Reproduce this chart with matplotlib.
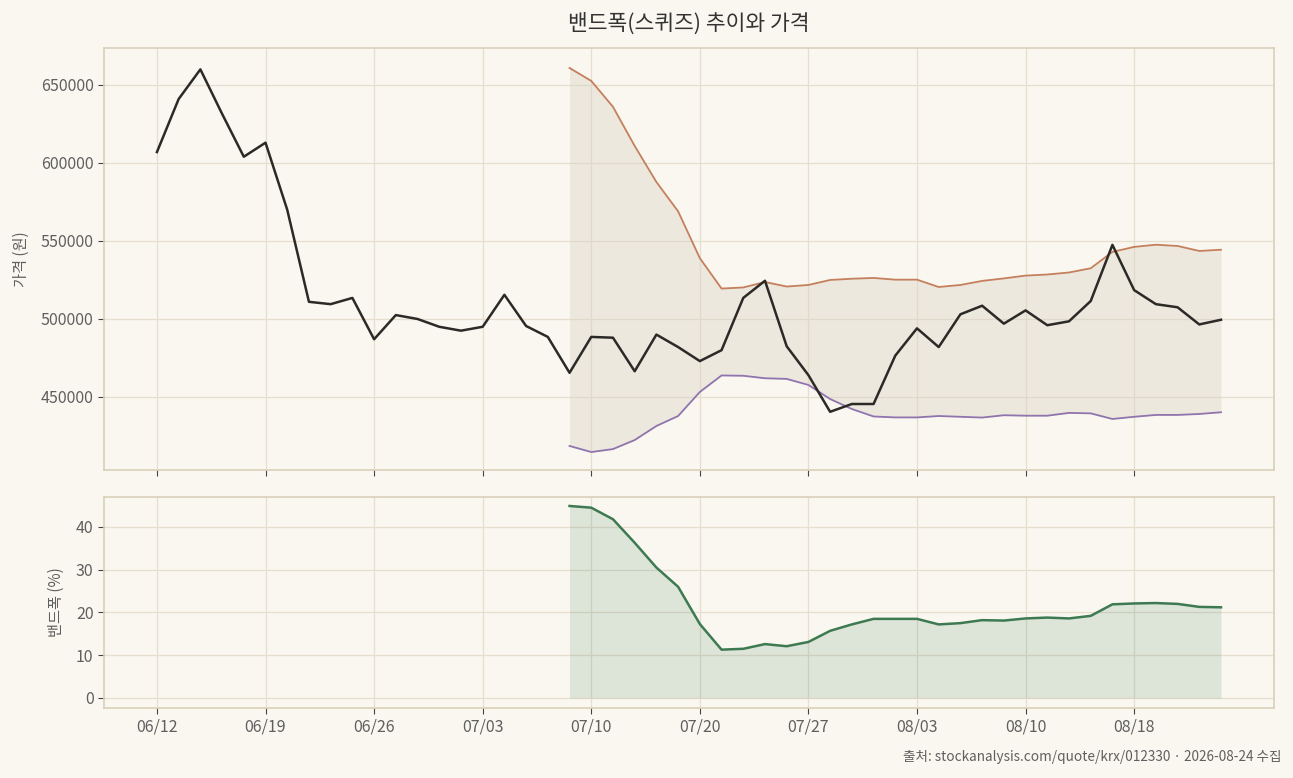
import numpy as np
import matplotlib
matplotlib.use('Agg')
import matplotlib.pyplot as plt

plt.rcParams['font.family'] = ['Noto Sans CJK KR', 'DejaVu Sans']
plt.rcParams['axes.unicode_minus'] = False

# 거래일 (50일)
dates = ['06/12', '06/15', '06/16', '06/17', '06/18', '06/19', '06/22', '06/23', '06/24', '06/25',
         '06/26', '06/29', '06/30', '07/01', '07/02', '07/03', '07/06', '07/07', '07/08', '07/09',
         '07/10', '07/13', '07/14', '07/15', '07/16', '07/20', '07/21', '07/22', '07/23', '07/24',
         '07/27', '07/28', '07/29', '07/30', '07/31', '08/03', '08/04', '08/05', '08/06', '08/07',
         '08/10', '08/11', '08/12', '08/13', '08/14', '08/18', '08/19', '08/20', '08/21', '08/24']

# 종가
close = [607000, 641000, 660000, 631500, 604000, 613000, 570000, 511000, 509500, 513500,
         487000, 502500, 500000, 495000, 492500, 495000, 515500, 495500, 488500, 465500,
         488500, 488000, 466500, 490000, 482000, 473000, 480000, 513500, 524500, 482500,
         464000, 440500, 445500, 445500, 476500, 494000, 482000, 503000, 508500, 497000,
         505500, 496000, 498500, 511500, 547500, 518500, 509500, 507500, 496500, 499500]

# 볼린저 밴드 (20일) - 인덱스 19부터
band_start = 19
upper = [660900, 652600, 636000, 610900, 587800, 569000, 539000, 519500, 520200, 523700,
         520800, 521800, 525000, 525800, 526300, 525200, 525200, 520500, 521800, 524400,
         526000, 527800, 528500, 529800, 532500, 543000, 546200, 547600, 546800, 543600,
         544400]
lower = [418600, 414700, 416600, 422400, 431400, 437800, 453200, 463800, 463600, 462000,
         461600, 457700, 448700, 442300, 437500, 436900, 436900, 437800, 437300, 436800,
         438300, 438000, 438000, 439800, 439500, 435900, 437300, 438500, 438500, 439100,
         440200]
bandwidth = [44.9, 44.5, 41.8, 36.3, 30.5, 26.0, 17.3, 11.3, 11.5, 12.6,
             12.1, 13.1, 15.7, 17.2, 18.5, 18.5, 18.5, 17.2, 17.5, 18.2,
             18.1, 18.6, 18.8, 18.6, 19.2, 21.9, 22.1, 22.2, 22.0, 21.3,
             21.2]

bg = '#faf7f0'
spine_c = '#d9cfb9'
grid_c = '#e6dece'
text_c = '#5f5f5f'

fig = plt.figure(figsize=(12.93, 7.78), dpi=100, facecolor=bg)
ax1 = fig.add_axes([0.0804, 0.3959, 0.9049, 0.5424])
ax2 = fig.add_axes([0.0804, 0.0900, 0.9049, 0.2712], sharex=ax1)

x = np.arange(len(close))
xb = np.arange(band_start, band_start + len(upper))

# 가격 + 밴드
ax1.fill_between(xb, lower, upper, color='#d9d3c3', alpha=0.4, linewidth=0)
ax1.plot(xb, upper, color='#c47f5c', linewidth=1.3)
ax1.plot(xb, lower, color='#8f74ad', linewidth=1.3)
ax1.plot(x, close, color='#2b2a27', linewidth=1.8)
ax1.set_ylim(403200, 673700)
ax1.set_yticks([450000, 500000, 550000, 600000, 650000])
ax1.set_ylabel('가격 (원)', fontsize=11, color=text_c, labelpad=8)

# 밴드폭
ax2.fill_between(xb, 0, bandwidth, color='#3d7a52', alpha=0.15, linewidth=0)
ax2.plot(xb, bandwidth, color='#3d7a52', linewidth=1.8)
ax2.set_ylim(-2.34, 47.0)
ax2.set_yticks([0, 10, 20, 30, 40])
ax2.set_ylabel('밴드폭 (%)', fontsize=11, color=text_c, labelpad=8)

ticks = list(range(0, len(dates), 5))
ax2.set_xticks(ticks)
ax2.set_xticklabels([dates[i] for i in ticks])
ax1.set_xlim(-2.44, 51.44)
plt.setp(ax1.get_xticklabels(), visible=False)

for ax in (ax1, ax2):
    ax.set_facecolor(bg)
    ax.grid(True, color=grid_c, linewidth=0.9)
    ax.set_axisbelow(True)
    for s in ax.spines.values():
        s.set_color(spine_c)
        s.set_linewidth(1.2)
    ax.tick_params(axis='both', colors='#444444', labelcolor=text_c, labelsize=11.5, length=4)

# 제목은 축 영역 중앙에
fig.text(0.0804 + 0.9049 / 2, 0.970, '밴드폭(스퀴즈) 추이와 가격', ha='center', va='center',
         fontsize=15.5, color='#333333')
fig.text(0.991, 0.027, '출처: stockanalysis.com/quote/krx/012330 · 2026-08-24 수집',
         ha='right', va='center', fontsize=9.8, color=text_c)

fig.savefig('out.png', dpi=100, facecolor=bg)
